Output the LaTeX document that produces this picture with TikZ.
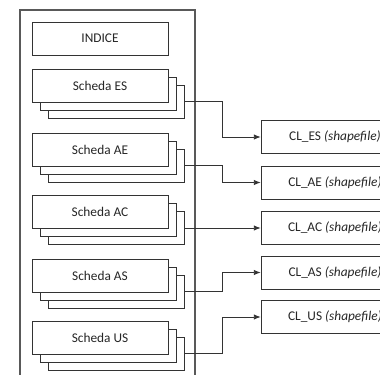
\documentclass[tikz,border=0pt]{standalone}
\usepackage{fontspec}
\setmainfont{Carlito}
\usetikzlibrary{calc,arrows.meta}
\tikzstyle{box}=[rectangle,draw=black!80,fill=white,line width=0.6pt,minimum width=102pt,minimum height=24.75pt,inner sep=0pt,anchor=center,font=\fontsize{10}{12}\selectfont,text=black!85]
\tikzstyle{clbox}=[box,minimum width=111pt]
\tikzstyle{conn}=[draw=black!80,line width=0.6pt,-{Latex[length=5pt,width=4pt]}]
\newcommand{\schedastack}[3]
{
  \node[box](#1c) at (116,#2+16){};
  \node[box](#1b) at (108,#2+8){};
  \node[box](#1) at (100,#2){#3};
}

\begin{document}
\begin{tikzpicture}[x=0.75pt,y=-0.75pt]
	\clip (0,0) rectangle (380,375);
	\fill[white] (0,0) rectangle (380,375);

	% contenitore
	\draw[draw=black!65,line width=0.8pt] (20,10) rectangle (195,390);

	\node[box](indice) at (100,38.5){INDICE};
	\schedastack{schedaES}{85.5}{Scheda ES}
	\schedastack{schedaAE}{149.5}{Scheda AE}
	\schedastack{schedaAC}{212}{Scheda AC}
	\schedastack{schedaAS}{275.5}{Scheda AS}
	\schedastack{schedaUS}{337.5}{Scheda US}

	% shapefile
	\node[clbox](clES) at (335,137){CL\_ES \textit{(shapefile)}};
	\node[clbox](clAE) at (335,182.5){CL\_AE \textit{(shapefile)}};
	\node[clbox](clAC) at (335,228){CL\_AC \textit{(shapefile)}};
	\node[clbox](clAS) at (335,272.5){CL\_AS \textit{(shapefile)}};
	\node[clbox](clUS) at (335,317){CL\_US \textit{(shapefile)}};

	\draw[conn] (schedaESc.east) -| ($(schedaESc.east)!0.5!(clES.west)$) |- (clES.west);
	\draw[conn] (schedaAEc.east) -| ($(schedaAEc.east)!0.5!(clAE.west)$) |- (clAE.west);
	\draw[conn] (schedaACc.east) -- (clAC.west);
	\draw[conn] (schedaASc.east) -| ($(schedaASc.east)!0.5!(clAS.west)$) |- (clAS.west);
	\draw[conn] (schedaUSc.east) -| ($(schedaUSc.east)!0.5!(clUS.west)$) |- (clUS.west);
\end{tikzpicture}
\end{document}
